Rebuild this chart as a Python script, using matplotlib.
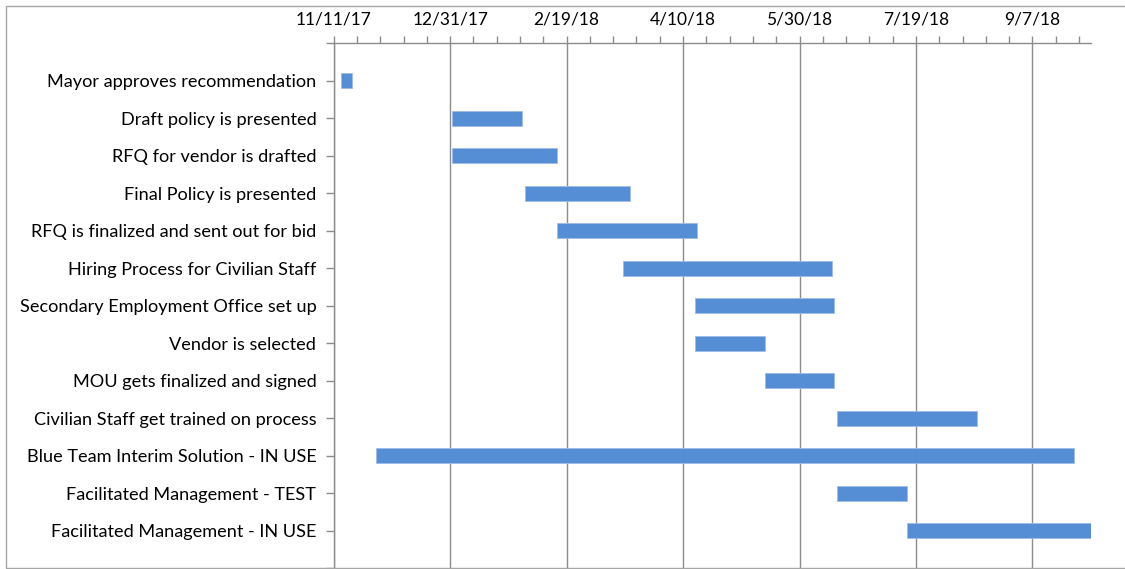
import datetime as dt

import matplotlib
matplotlib.use("Agg")
import matplotlib.pyplot as plt
import matplotlib.dates as mdates
from matplotlib.patches import Rectangle
from matplotlib.ticker import FixedLocator, FuncFormatter

tasks = [
    "Mayor approves recommendation",
    "Draft policy is presented",
    "RFQ for vendor is drafted",
    "Final Policy is presented",
    "RFQ is finalized and sent out for bid",
    "Hiring Process for Civilian Staff",
    "Secondary Employment Office set up",
    "Vendor is selected",
    "MOU gets finalized and signed",
    "Civilian Staff get trained on process",
    "Blue Team Interim Solution - IN USE",
    "Facilitated Management - TEST",
    "Facilitated Management - IN USE",
]
start_dates = [
    "2017-11-14", "2018-01-01", "2018-01-01", "2018-02-01", "2018-02-15",
    "2018-03-15", "2018-04-15", "2018-04-15", "2018-05-15", "2018-06-15",
    "2017-11-29", "2018-06-15", "2018-07-15",
]
durations = [5, 30, 45, 45, 60, 90, 60, 30, 30, 60, 300, 30, 79]

axis_min = "2017-11-11"
axis_max = "2018-10-02"
major_step = 50
minor_step = 10

bar_color = "#558ED5"
grid_color = "#8c8c8c"

starts = [mdates.date2num(dt.date.fromisoformat(s)) for s in start_dates]
x0 = mdates.date2num(dt.date.fromisoformat(axis_min))
x1 = mdates.date2num(dt.date.fromisoformat(axis_max))

plt.rcParams["font.family"] = ["Lato", "DejaVu Sans"]

fig = plt.figure(figsize=(11.25, 5.69), dpi=100)
W, H = 1125, 569
ax = fig.add_axes([333.7 / W, 1 - 568 / H, (1090.7 - 333.7) / W, (568 - 43) / H])

ypos = list(range(len(tasks)))
ax.barh(ypos, durations, left=starts, height=0.4, color=bar_color,
        edgecolor="#9dbde6", linewidth=0.6, zorder=3)

ax.set_xlim(x0, x1)
ax.set_ylim(len(tasks), -1)

majors = [x0 + i * major_step for i in range(int((x1 - x0) // major_step) + 1)]
minors = [x0 + i * minor_step for i in range(int((x1 - x0) // minor_step) + 1)]
ax.xaxis.set_major_locator(FixedLocator(majors))
ax.xaxis.set_minor_locator(FixedLocator(minors))


def fmt_date(v, pos=None):
    d = mdates.num2date(v)
    return f"{d.month}/{d.day}/{d:%y}"


ax.xaxis.set_major_formatter(FuncFormatter(fmt_date))
ax.xaxis.tick_top()
ax.tick_params(axis="x", which="both", direction="out", length=5, width=1,
               color=grid_color, labelsize=12.5, pad=6, labelcolor="#000000")
ax.grid(axis="x", which="major", color=grid_color, linewidth=1, zorder=0)

ax.set_yticks(range(-1, len(tasks) + 1))
ax.set_yticklabels([""] + tasks + [""])
ax.tick_params(axis="y", direction="out", length=6, width=1, color=grid_color,
               labelsize=13.1, pad=6.5, labelcolor="#000000")

for side in ("right", "bottom"):
    ax.spines[side].set_visible(False)
for side in ("top", "left"):
    ax.spines[side].set_color(grid_color)
    ax.spines[side].set_linewidth(1)

# chart border
fig.patches.append(Rectangle((6 / W, 1 - 568 / H), 1.0, (568 - 6) / H,
                             transform=fig.transFigure, fill=False,
                             edgecolor="#a6a6a6", linewidth=1))

fig.savefig("out.png", dpi=100)
